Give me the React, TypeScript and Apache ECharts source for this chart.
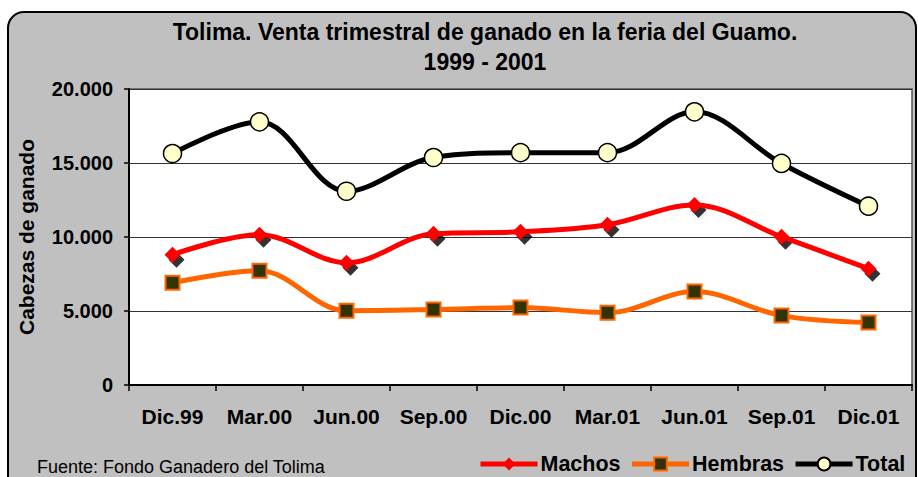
import React, { useEffect, useRef } from "react";
import * as echarts from "echarts";

const categories = ["Dic.99", "Mar.00", "Jun.00", "Sep.00", "Dic.00", "Mar.01", "Jun.01", "Sep.01", "Dic.01"];
const machos = [8800, 10150, 8260, 10220, 10350, 10830, 12170, 10020, 7860];
const hembras = [6910, 7720, 5020, 5100, 5230, 4890, 6310, 4690, 4220];
const total = [15640, 17780, 13090, 15370, 15700, 15700, 18460, 14970, 12080];
const yTickLabels = ["0", "5.000", "10.000", "15.000", "20.000"];

const FONT = "'Liberation Sans', Arial, sans-serif";

export default function App() {
  const ref = useRef<HTMLDivElement>(null);
  useEffect(() => {
    document.body.style.margin = "0";
    const chart = echarts.init(ref.current!, null, { renderer: "svg" });
    chart.setOption({
      animation: false,
      backgroundColor: "#ffffff",
      textStyle: { fontFamily: FONT },
      title: {
        text: "Tolima. Venta trimestral de ganado en la feria del Guamo.\n1999 - 2001",
        left: 485,
        textAlign: "center",
        top: 17,
        padding: 0,
        textStyle: { fontFamily: FONT, fontSize: 23, fontWeight: "bold", color: "#000", lineHeight: 30 },
      },
      graphic: [
        {
          type: "rect",
          z: -100,
          shape: { x: 8, y: 12, width: 908, height: 490, r: 16 },
          style: { fill: "#C0C0C0", stroke: "#000", lineWidth: 2 },
        },
        {
          type: "text",
          x: 37,
          y: 467,
          style: {
            text: "Fuente: Fondo Ganadero del Tolima",
            font: "18px " + FONT,
            fill: "#000",
            textVerticalAlign: "middle",
          },
        },
      ],
      legend: {
        data: ["Machos", "Hembras", "Total"],
        left: 478,
        top: 453,
        padding: 0,
        itemWidth: 57,
        itemHeight: 16,
        itemGap: 9,
        lineStyle: { width: 5 },
        textStyle: { fontFamily: FONT, fontSize: 21.5, fontWeight: "bold", color: "#000", padding: [0, 0, 0, -2] },
      },
      grid: {
        left: 129,
        top: 89,
        right: 6,
        bottom: 92,
        show: true,
        backgroundColor: "#ffffff",
        borderColor: "#555",
        borderWidth: 1.5,
      },
      xAxis: {
        type: "category",
        data: categories,
        boundaryGap: true,
        axisLine: { lineStyle: { color: "#000", width: 2 } },
        axisTick: { show: true, length: 6, lineStyle: { color: "#000", width: 1.5 }, alignWithLabel: false },
        axisLabel: { fontFamily: FONT, fontSize: 21, fontWeight: "bold", color: "#000", margin: 21, interval: 0 },
      },
      yAxis: {
        type: "value",
        min: 0,
        max: 20000,
        interval: 5000,
        name: "Cabezas de ganado",
        nameLocation: "middle",
        nameRotate: 90,
        nameGap: 92,
        nameTextStyle: { fontFamily: FONT, fontSize: 21, fontWeight: "bold", color: "#000" },
        axisLine: { show: true, lineStyle: { color: "#000", width: 2 } },
        axisTick: { show: true, length: 5, lineStyle: { color: "#000", width: 1.5 } },
        axisLabel: {
          fontFamily: FONT,
          fontSize: 20,
          fontWeight: "bold",
          color: "#000",
          margin: 16,
          formatter: (v: number) => yTickLabels[Math.round(v / 5000)] ?? String(v),
        },
        splitLine: { show: true, lineStyle: { color: "#333", width: 1 } },
      },
      series: [
        {
          name: "MachosSombra",
          type: "scatter",
          data: machos,
          symbol: "diamond",
          symbolSize: 16,
          symbolOffset: [4, 5],
          itemStyle: { color: "#000" },
          silent: true,
          z: 1,
        },
        {
          name: "Hembras",
          type: "line",
          data: hembras,
          smooth: 0.35,
          symbol: "rect",
          symbolSize: 14,
          showAllSymbol: true,
          lineStyle: { color: "#FF6600", width: 5 },
          itemStyle: { color: "#333300", borderColor: "#FF6600", borderWidth: 2 },
          z: 3,
        },
        {
          name: "Machos",
          type: "line",
          data: machos,
          smooth: 0.35,
          symbol: "diamond",
          symbolSize: 16,
          showAllSymbol: true,
          lineStyle: { color: "#FF0000", width: 5 },
          itemStyle: { color: "#FF0000" },
          z: 3,
        },
        {
          name: "Total",
          type: "line",
          data: total,
          smooth: 0.35,
          symbol: "circle",
          symbolSize: 18,
          showAllSymbol: true,
          lineStyle: { color: "#000", width: 5 },
          itemStyle: { color: "#FFFFCC", borderColor: "#000", borderWidth: 1.5 },
          z: 3,
        },
      ],
    });
    return () => chart.dispose();
  }, []);
  return <div ref={ref} style={{ position: "fixed", left: 0, top: 0, width: 918, height: 477 }} />;
}
